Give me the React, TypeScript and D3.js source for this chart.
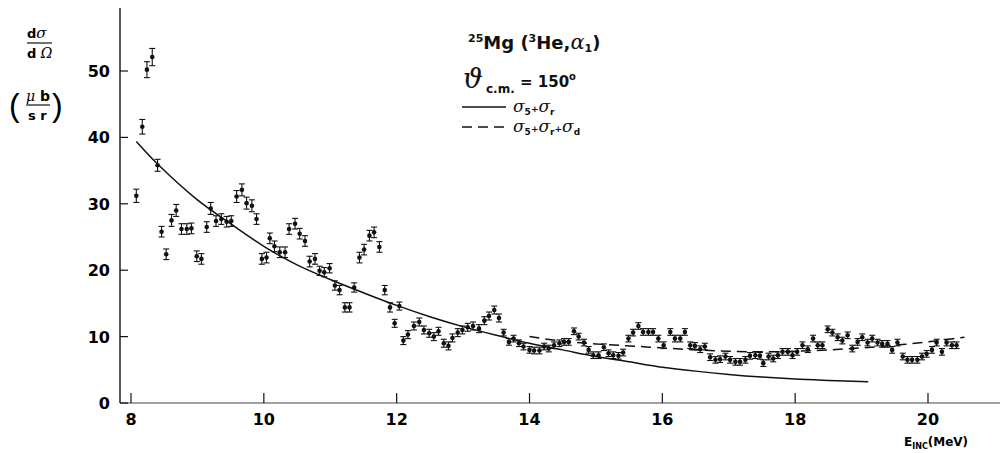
import React from 'react';
import * as d3 from 'd3';

// measured points: [E_inc (MeV), dσ/dΩ (µb/sr), error]
const points: [number, number, number][] = [
  [8.08, 31.2, 1.0], [8.17, 41.6, 1.1], [8.24, 50.2, 1.2], [8.32, 52.1, 1.3],
  [8.40, 35.8, 0.9], [8.46, 25.8, 0.8], [8.53, 22.4, 0.8], [8.61, 27.5, 0.9],
  [8.68, 29.0, 0.9], [8.76, 26.2, 0.8], [8.84, 26.2, 0.8], [8.91, 26.3, 0.8],
  [8.99, 22.1, 0.8], [9.06, 21.7, 0.8], [9.14, 26.5, 0.8], [9.20, 29.3, 0.9],
  [9.28, 27.4, 0.8], [9.36, 27.7, 0.8], [9.44, 27.3, 0.8], [9.51, 27.4, 0.8],
  [9.59, 31.1, 0.9], [9.67, 32.1, 0.9], [9.74, 30.1, 0.9], [9.82, 29.7, 0.9],
  [9.89, 27.7, 0.8], [9.97, 21.7, 0.8], [10.04, 21.9, 0.8], [10.09, 24.8, 0.8],
  [10.16, 23.6, 0.8], [10.24, 22.7, 0.8], [10.32, 22.7, 0.8], [10.38, 26.2, 0.8],
  [10.47, 27.0, 0.8], [10.54, 25.5, 0.8], [10.62, 24.4, 0.8], [10.69, 21.3, 0.8],
  [10.77, 21.7, 0.8], [10.84, 19.9, 0.7], [10.91, 19.7, 0.7], [10.99, 20.3, 0.7],
  [11.07, 17.7, 0.7], [11.14, 17.0, 0.7], [11.22, 14.4, 0.7], [11.29, 14.4, 0.7],
  [11.36, 17.4, 0.7], [11.44, 21.9, 0.8], [11.51, 23.1, 0.8], [11.59, 25.2, 0.8],
  [11.66, 25.7, 0.8], [11.74, 23.5, 0.8], [11.82, 17.0, 0.7], [11.90, 14.4, 0.7],
  [11.97, 12.0, 0.6], [12.04, 14.6, 0.6], [12.10, 9.4, 0.6], [12.17, 10.3, 0.6],
  [12.26, 11.6, 0.6], [12.34, 12.2, 0.6], [12.41, 11.0, 0.6], [12.49, 10.5, 0.6],
  [12.56, 10.0, 0.6], [12.63, 10.8, 0.6], [12.71, 9.0, 0.6], [12.78, 8.6, 0.6],
  [12.84, 9.8, 0.6], [12.92, 10.6, 0.6], [12.99, 11.0, 0.6], [13.07, 11.4, 0.6],
  [13.15, 11.6, 0.6], [13.24, 11.2, 0.6], [13.32, 12.4, 0.6], [13.39, 13.1, 0.6],
  [13.47, 14.0, 0.6], [13.54, 12.8, 0.6], [13.61, 10.6, 0.5], [13.69, 9.2, 0.5],
  [13.76, 9.7, 0.5], [13.84, 9.0, 0.5], [13.91, 8.5, 0.5], [14.00, 8.0, 0.5],
  [14.07, 7.9, 0.5], [14.15, 7.9, 0.5], [14.22, 8.5, 0.5], [14.29, 8.2, 0.5],
  [14.37, 8.7, 0.5], [14.45, 9.0, 0.5], [14.52, 9.2, 0.5], [14.59, 9.2, 0.5],
  [14.67, 10.8, 0.5], [14.74, 10.0, 0.5], [14.82, 9.1, 0.5], [14.89, 8.0, 0.5],
  [14.96, 7.2, 0.5], [15.04, 7.2, 0.5], [15.12, 8.4, 0.5], [15.19, 7.5, 0.5],
  [15.26, 7.2, 0.5], [15.34, 7.1, 0.5], [15.41, 7.6, 0.5], [15.49, 9.7, 0.5],
  [15.56, 10.6, 0.5], [15.64, 11.6, 0.5], [15.71, 10.7, 0.5], [15.79, 10.7, 0.5],
  [15.86, 10.7, 0.5], [15.94, 9.7, 0.5], [16.02, 8.7, 0.5], [16.12, 10.7, 0.5],
  [16.19, 9.7, 0.5], [16.27, 9.7, 0.5], [16.34, 10.7, 0.5], [16.42, 8.7, 0.5],
  [16.49, 8.6, 0.5], [16.57, 8.1, 0.5], [16.64, 8.5, 0.5], [16.72, 6.9, 0.5],
  [16.80, 6.5, 0.5], [16.87, 6.6, 0.5], [16.95, 7.0, 0.5], [17.02, 6.5, 0.5],
  [17.10, 6.2, 0.5], [17.17, 6.2, 0.5], [17.25, 6.5, 0.5], [17.32, 7.1, 0.5],
  [17.40, 7.2, 0.5], [17.47, 7.1, 0.5], [17.52, 6.0, 0.5], [17.60, 7.0, 0.5],
  [17.67, 6.7, 0.5], [17.74, 7.2, 0.5], [17.81, 7.7, 0.5], [17.89, 7.7, 0.5],
  [17.96, 7.2, 0.5], [18.03, 7.7, 0.5], [18.11, 8.7, 0.5], [18.19, 8.1, 0.5],
  [18.27, 9.7, 0.5], [18.34, 8.7, 0.5], [18.41, 8.7, 0.5], [18.49, 11.1, 0.5],
  [18.56, 10.6, 0.5], [18.64, 9.9, 0.5], [18.71, 9.4, 0.5], [18.79, 10.2, 0.5],
  [18.86, 8.2, 0.5], [18.94, 9.2, 0.5], [19.01, 9.9, 0.5], [19.09, 9.1, 0.5],
  [19.16, 9.7, 0.5], [19.24, 9.1, 0.5], [19.31, 8.9, 0.5], [19.39, 8.9, 0.5],
  [19.46, 8.0, 0.5], [19.54, 9.1, 0.5], [19.62, 7.0, 0.5], [19.69, 6.5, 0.5],
  [19.76, 6.5, 0.5], [19.84, 6.5, 0.5], [19.91, 7.0, 0.5], [19.98, 7.4, 0.5],
  [20.06, 8.0, 0.5], [20.13, 9.1, 0.5], [20.21, 7.7, 0.5], [20.28, 9.1, 0.5],
  [20.36, 8.7, 0.5], [20.43, 8.7, 0.5],
];

// σ5 + σr (solid)
const sigmaSR: [number, number][] = [
  [8.08, 39.4], [8.4, 36.0], [9.0, 30.6], [9.5, 27.0], [10.0, 23.6], [10.5, 20.8],
  [11.0, 18.6], [11.5, 16.6], [12.0, 14.7], [12.5, 13.0], [13.0, 11.5], [13.5, 10.2],
  [14.0, 9.0], [14.5, 8.0], [15.0, 7.0], [15.5, 6.2], [16.0, 5.4], [16.5, 4.8],
  [17.0, 4.3], [17.5, 3.9], [18.0, 3.6], [18.5, 3.4], [19.1, 3.2],
];

// σ5 + σr + σd (dashed)
const sigmaSRD: [number, number][] = [
  [14.0, 10.0], [14.5, 9.3], [15.0, 8.9], [15.5, 8.6], [16.0, 8.3], [16.5, 8.0],
  [17.0, 7.8], [17.5, 7.7], [18.0, 7.8], [18.5, 8.0], [19.0, 8.3], [19.5, 8.7],
  [20.0, 9.2], [20.55, 9.9],
];

const xTicks = [8, 10, 12, 14, 16, 18, 20];
const yTicks = [0, 10, 20, 30, 40, 50];

const W = 1002;
const H = 453;
const num = '"DejaVu Sans", "Liberation Sans", sans-serif';
const greek = '"DejaVu Serif", serif';

const Sub = ({ t, up = false }: { t: string; up?: boolean }) => (
  <tspan fontSize={9} dy={up ? -3 : 3} fontFamily={num} fontStyle="normal" fontWeight="bold">{t}</tspan>
);

export default function App() {
  const x = d3.scaleLinear().domain([8, 20]).range([131, 928]);
  const y = d3.scaleLinear().domain([0, 50]).range([403, 71]);
  const x0 = x.invert(120);
  const x1 = x.invert(1000);
  const yTop = y.invert(8);

  const line = d3.line<[number, number]>()
    .x(d => x(d[0]))
    .y(d => y(d[1]))
    .curve(d3.curveCatmullRom);

  return (
    <svg width={W} height={H} style={{ position: 'absolute', left: 0, top: 0, background: '#fff' }}>
      {/* axes */}
      <line x1={x(x0)} x2={x(x0)} y1={y(yTop)} y2={y(0)} stroke="#111" strokeWidth={1.4} />
      <line x1={x(x0)} x2={x(x1)} y1={y(0)} y2={y(0)} stroke="#444" strokeWidth={1.1} />
      {yTicks.map(t => (
        <g key={'y' + t}>
          <line x1={x(x0)} x2={x(x0) + 8} y1={y(t)} y2={y(t)} stroke="#111" strokeWidth={1.2} />
          <text x={110} y={y(t) + 6} textAnchor="end" fontFamily={num} fontWeight="bold" fontSize={16}>{t}</text>
        </g>
      ))}
      {xTicks.map(t => (
        <g key={'x' + t}>
          <line x1={x(t)} x2={x(t)} y1={y(0)} y2={y(0) - 10} stroke="#111" strokeWidth={1.2} />
          <text x={x(t)} y={425} textAnchor="middle" fontFamily={num} fontWeight="bold" fontSize={16}>{t}</text>
        </g>
      ))}
      <text x={904} y={446} fontFamily={num} fontWeight="bold" fontSize={12}>
        E<tspan fontSize={8} dy={3}>INC</tspan><tspan dy={-3}>(MeV)</tspan>
      </text>

      {/* y label */}
      <g fontFamily={num} fontWeight="bold">
        <text x={27} y={38} fontSize={13}>d<tspan fontFamily={greek} fontStyle="italic" fontWeight="normal" fontSize={15}>σ</tspan></text>
        <line x1={27} x2={52} y1={43} y2={43} stroke="#111" strokeWidth={1.2} />
        <text x={27} y={58} fontSize={13}>d<tspan fontFamily={greek} fontStyle="italic" fontWeight="normal" fontSize={14}> Ω</tspan></text>
        <text x={9} y={116} fontSize={32} fontWeight="normal" fontFamily="Liberation Sans">(</text>
        <text x={52} y={116} fontSize={32} fontWeight="normal" fontFamily="Liberation Sans">)</text>
        <text x={26} y={101} fontSize={14}><tspan fontFamily={greek} fontStyle="italic" fontWeight="normal">μ</tspan> b</text>
        <line x1={26} x2={50} y1={105} y2={105} stroke="#111" strokeWidth={1.2} />
        <text x={28} y={120} fontSize={13}>s r</text>
      </g>

      {/* theory curves */}
      <path d={line(sigmaSR) ?? ''} fill="none" stroke="#111" strokeWidth={1.5} />
      <path d={line(sigmaSRD) ?? ''} fill="none" stroke="#111" strokeWidth={1.5} strokeDasharray="10,6" />

      {/* data with error bars */}
      {points.map(([e, s, er], i) => (
        <g key={i} stroke="#111" strokeWidth={1.1}>
          <line x1={x(e)} x2={x(e)} y1={y(s - er)} y2={y(s + er)} />
          <line x1={x(e) - 3} x2={x(e) + 3} y1={y(s + er)} y2={y(s + er)} />
          <line x1={x(e) - 3} x2={x(e) + 3} y1={y(s - er)} y2={y(s - er)} />
          <circle cx={x(e)} cy={y(s)} r={2.3} fill="#111" stroke="none" />
        </g>
      ))}

      {/* legend */}
      <g fontFamily={num} fontWeight="bold" fill="#111">
        <text x={468} y={49} fontSize={18}>
          <tspan fontSize={11} dy={-7}>25</tspan><tspan dy={7}>Mg (</tspan><tspan fontSize={11} dy={-7}>3</tspan><tspan dy={7}>He,</tspan><tspan fontFamily={greek} fontStyle="italic" fontWeight="normal" fontSize={21}>α</tspan><tspan fontSize={11} dy={3}>1</tspan><tspan dy={-3}>)</tspan>
        </text>
        <text x={463} y={88} fontSize={28} fontFamily={greek} fontStyle="italic" fontWeight="normal">ϑ</text>
        <text x={486} y={93} fontSize={12}>c.m.</text>
        <text x={520} y={87} fontSize={15}>= 150<tspan fontSize={10} dy={-7}>o</tspan></text>
        <line x1={462} x2={506} y1={107} y2={107} stroke="#111" strokeWidth={1.5} />
        <line x1={462} x2={506} y1={127} y2={127} stroke="#111" strokeWidth={1.5} strokeDasharray="10,6" />
        <text x={513} y={112} fontSize={17} fontFamily={greek} fontStyle="italic" fontWeight="normal">
          σ<Sub t="5" /><Sub t="+" up />σ<Sub t="r" />
        </text>
        <text x={513} y={132} fontSize={17} fontFamily={greek} fontStyle="italic" fontWeight="normal">
          σ<Sub t="5" /><Sub t="+" up />σ<Sub t="r" /><Sub t="+" up />σ<Sub t="d" />
        </text>
      </g>
    </svg>
  );
}
